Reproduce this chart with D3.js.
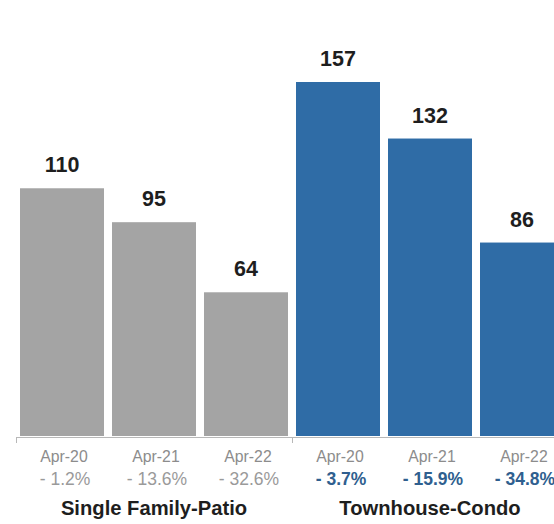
<!DOCTYPE html>
<html>
<head>
<meta charset="utf-8">
<script src="https://cdn.jsdelivr.net/npm/d3@7"></script>
<style>
  html, body { margin: 0; padding: 0; background: #fff; }
  svg { display: block; }
  text { font-family: "Liberation Sans", Arial, Helvetica, sans-serif; }
</style>
</head>
<body>
<svg id="chart" width="554" height="524"></svg>
<script>
// Months shown under each bar
const periods = ["Apr-20", "Apr-21", "Apr-22"];
// Property types (one group of bars each)
const groups = ["Single Family-Patio", "Townhouse-Condo"];
// Bar values per group
const singleFamilyValues = [110, 95, 64];
const townhouseValues = [157, 132, 86];
// Year-over-year change labels per group
const singleFamilyChange = ["- 1.2%", "- 13.6%", "- 32.6%"];
const townhouseChange = ["- 3.7%", "- 15.9%", "- 34.8%"];

const groupValues = [singleFamilyValues, townhouseValues];
const groupChanges = [singleFamilyChange, townhouseChange];
const groupStyles = [
  { bar: "#a4a4a4", change: "#9a9a9a", weight: "normal" },
  { bar: "#2f6ca6", change: "#2f5f8f", weight: "bold" }
];

// One flat row per bar
const rows = [];
groups.forEach((g, gi) => {
  periods.forEach((p, pi) => {
    rows.push({
      key: g + "|" + p,
      group: gi,
      period: p,
      value: groupValues[gi][pi],
      change: groupChanges[gi][pi]
    });
  });
});

const svg = d3.select("#chart");

const x = d3.scaleBand()
  .domain(rows.map(d => d.key))
  .range([16, 568])
  .paddingInner(0.087)
  .paddingOuter(0.0435);

const y = d3.scaleLinear()
  .domain([0, 157])
  .range([437, 82]);

// Group boundary scale for the baseline ticks
const xGroup = d3.scaleLinear()
  .domain([0, rows.length])
  .range([16, 568]);

// Bars
svg.append("g")
  .selectAll("rect")
  .data(rows)
  .join("rect")
  .attr("x", d => x(d.key))
  .attr("y", d => y(d.value))
  .attr("width", x.bandwidth())
  .attr("height", d => y(0) - y(d.value) - 1)
  .attr("fill", d => groupStyles[d.group].bar);

// Baseline with ticks at group boundaries
const axis = svg.append("g")
  .attr("transform", `translate(0,${y(0)})`)
  .call(d3.axisBottom(xGroup)
    .tickValues([0, periods.length, rows.length])
    .tickSize(6)
    .tickSizeOuter(0)
    .tickFormat(""));
axis.select(".domain").attr("stroke", "#b8b8b8").attr("stroke-width", 1);
axis.selectAll(".tick line").attr("stroke", "#b8b8b8");

// Value labels above bars
svg.append("g")
  .selectAll("text")
  .data(rows)
  .join("text")
  .attr("x", d => x(d.key) + x.bandwidth() / 2)
  .attr("y", d => y(d.value) - 16)
  .attr("text-anchor", "middle")
  .attr("font-size", "21.5px")
  .attr("font-weight", "bold")
  .attr("fill", "#1e1e1e")
  .text(d => d.value);

// Period labels
svg.append("g")
  .selectAll("text")
  .data(rows)
  .join("text")
  .attr("x", d => x(d.key) + x.bandwidth() / 2 + 2)
  .attr("y", 462)
  .attr("text-anchor", "middle")
  .attr("font-size", "15.8px")
  .attr("fill", "#8c8c8c")
  .text(d => d.period);

// Change labels
svg.append("g")
  .selectAll("text")
  .data(rows)
  .join("text")
  .attr("x", d => x(d.key) + x.bandwidth() / 2 + 3)
  .attr("y", 485)
  .attr("text-anchor", "middle")
  .attr("font-size", "17.5px")
  .attr("font-weight", d => groupStyles[d.group].weight)
  .attr("fill", d => groupStyles[d.group].change)
  .text(d => d.change);

// Group titles
svg.append("g")
  .selectAll("text")
  .data(groups)
  .join("text")
  .attr("x", (d, i) => (xGroup(i * periods.length) + xGroup((i + 1) * periods.length)) / 2)
  .attr("y", 515)
  .attr("text-anchor", "middle")
  .attr("font-size", "20.2px")
  .attr("font-weight", "bold")
  .attr("fill", "#1e1e1e")
  .text(d => d);
</script>
</body>
</html>
